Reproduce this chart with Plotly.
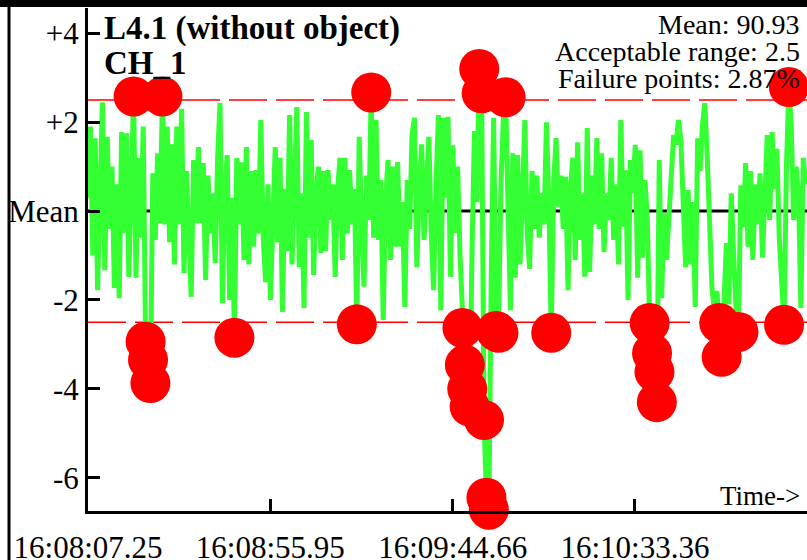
import plotly.graph_objects as go

# ---------------- data ----------------
title_line1 = "L4.1 (without object)"
title_line2 = "CH_1"
mean_value = 90.93
acceptable_range = 2.5
failure_pct = 2.87

tick_seconds = [0.0, 48.70, 97.41, 146.11]
tick_labels = ["16:08:07.25", "16:08:55.95", "16:09:44.66", "16:10:33.36"]
y_tick_vals = [4, 2, 0, -2, -4, -6]
y_tick_text = ["+4", "+2", "Mean", "-2", "-4", "-6"]

sample_period_s = 0.6412  # seconds between samples

# deviation from mean, read segment by segment
dev_a = [0.3, 1.9, -1.0, 1.64, -1.78, 0.8, 2.45, -1.33, 1.67, -0.4,
         1.0, -1.73, 0.6, -1.96, 1.78, -0.5, 1.75, -1.48, 0.9, 2.58,
         -1.5, 1.2, -0.6, 1.9, -2.94, -3.35, -3.87, 0.85, -0.65, 1.3,
         -0.27, 2.58, -0.3, 1.9, -0.7, 1.5, -1.2, 1.9, -0.3, 2.3,
         -1.4, 0.9, -0.8, -1.93, 1.15, -0.27, 1.44, -0.27, 1.08]
dev_b = [-1.55, 0.8, -0.5, 0.4, -1.17, 1.2, 2.43, -2.07, 0.5, 1.26,
         -2.0, 0.3, -2.85, 1.2, -0.3, 1.1, -1.1, 1.44, -1.2, 0.9,
         -0.8, 0.92, -0.5, 2.05, -0.6, -1.6, 0.6, -2.0, 0.3, 1.44,
         -0.7, 1.2, -2.27, 0.5, -0.9, 2.16, -1.2, 0.8, 2.34, -1.26,
         0.4, -2.18, 2.23, -0.6, 1.6, -1.44, 0.4, 1.0, -0.95, 0.9]
dev_c = [-0.9, 0.92, -0.2, 0.6, -1.48, 0.5, 1.2, -1.1, 1.2, -0.5,
         0.92, -0.3, 0.5, -2.55, 1.67, -0.4, -1.7, 0.8, -0.2, 2.67,
         -0.6, 2.05, -0.65, 0.7, -2.45, 0.3, 1.15, -1.1, 1.0, -0.8,
         1.1, -0.8, 0.2, -2.16, 0.7, -0.4, 1.71, 2.1, -1.26, 0.5,
         1.5, -0.65, 0.9, 1.67, -0.5, -1.78, 0.6, 2.16, -2.23, 2.1]
dev_d = [0.3, 2.12, -1.48, 1.48, -0.5, 1.0, -1.0, -2.63, -3.46, -4.0,
         -4.4, -0.9, 1.8, 0.2, 3.2, 2.65, -4.7, -6.45, -6.72, -1.5,
         2.1, -2.7, -2.74, 0.5, 2.0, 2.56, -0.6, -2.23, 1.3, -1.5,
         1.26, -1.2, 0.3, 2.05, -0.5, -1.3, 0.9, -0.4, 0.8, -0.6,
         0.4, -0.3, 2.0, 0.2, -2.74, 0.6, 1.64, 0.1, 0.8, -0.4]
dev_e = [0.77, -1.78, 0.5, 1.2, -1.1, 1.55, -0.65, 0.4, -1.48, 1.87,
         -1.37, 0.8, -0.3, 1.64, -0.4, 1.3, -0.92, 0.4, -0.2, 1.2,
         -0.65, 0.6, -1.2, 2.05, -0.35, 0.92, -2.0, 1.15, 0.4, 1.49,
         -1.5, 1.37, -1.05, 0.7, -0.1, -2.52, -3.2, -3.62, -4.3, 1.15,
         -1.96, -0.05, -1.1, 0.0, 1.08, 1.71, 1.5, 2.05, 1.6, 0.0]
dev_f = [-1.26, 0.47, -1.2, 0.2, -2.16, 1.64, 0.9, 1.94, 2.43, 1.2,
         -0.7, -1.78, -2.2, -1.8, -2.52, -3.28, -2.0, -0.72, -2.1, 0.4,
         -1.0, -2.2, -2.72, 0.58, -0.36, 1.08, -0.8, 0.9, -1.1, 0.6,
         -0.3, 0.85, -1.05, 0.4, 1.71, -0.2, 1.78, 0.5, 1.4, -0.6,
         -1.5, -2.56, 1.0, 2.79, 1.9, -0.2, 1.0, 0.4, -2.18, 1.2, 0.6]

deviation = dev_a + dev_b + dev_c + dev_d + dev_e + dev_f
times = [i * sample_period_s for i in range(len(deviation))]

fail_t = [t for t, v in zip(times, deviation) if abs(v) > acceptable_range]
fail_v = [v for v in deviation if abs(v) > acceptable_range]

# ---------------- geometry helpers ----------------
W, H = 807, 560
ML, MR, MT, MB = 88, 0, 8, 49
PW, PH = W - ML - MR, H - MT - MB


def px_x(px):
    return (px - ML) / PW


def px_y(py):
    return (H - MB - py) / PH


FONT = "Liberation Serif"

fig = go.Figure()

fig.add_trace(go.Scatter(
    x=times, y=deviation, mode="lines",
    line=dict(color="rgb(51,255,51)", width=5),
    hoverinfo="skip", showlegend=False))

fig.add_trace(go.Scatter(
    x=fail_t, y=fail_v, mode="markers",
    marker=dict(color="rgb(255,0,0)", size=40, line=dict(width=0)),
    cliponaxis=False, showlegend=False))

shapes = [
    dict(type="line", xref="paper", yref="y", x0=0, x1=1, y0=0, y1=0,
         line=dict(color="black", width=3), layer="below"),
    dict(type="line", xref="paper", yref="y", x0=0, x1=1,
         y0=acceptable_range, y1=acceptable_range,
         line=dict(color="red", width=1.5, dash="38px,9px"), layer="below"),
    dict(type="line", xref="paper", yref="y", x0=0, x1=1,
         y0=-acceptable_range, y1=-acceptable_range,
         line=dict(color="red", width=1.5, dash="38px,9px"), layer="below"),
    # frame borders
    dict(type="rect", xref="paper", yref="paper",
         x0=px_x(0), x1=px_x(W), y0=px_y(7), y1=px_y(0),
         fillcolor="black", line=dict(width=0), layer="above"),
    dict(type="rect", xref="paper", yref="paper",
         x0=px_x(7.5), x1=px_x(10.5), y0=px_y(H), y1=px_y(0),
         fillcolor="black", line=dict(width=0), layer="above"),
]

ann = []
ann.append(dict(text="<b>%s</b>" % title_line1, x=px_x(102), y=px_y(8),
                xanchor="left", yanchor="top", font=dict(family=FONT, size=33, color="black")))
ann.append(dict(text="<b>%s</b>" % title_line2, x=px_x(102), y=px_y(43),
                xanchor="left", yanchor="top", font=dict(family=FONT, size=33, color="black")))
right_lines = ["Mean: %.2f" % mean_value,
               "Acceptable range: %g" % acceptable_range,
               "Failure points: %.2f%%" % failure_pct]
for k, txt in enumerate(right_lines):
    ann.append(dict(text=txt, x=px_x(802), y=px_y(7 + 27 * k),
                    xanchor="right", yanchor="top",
                    font=dict(family=FONT, size=28, color="black")))
ann.append(dict(text="Time->", x=px_x(802), y=px_y(479), xanchor="right", yanchor="top",
                font=dict(family=FONT, size=27, color="black")))
for a in ann:
    a.update(xref="paper", yref="paper", showarrow=False)

fig.update_layout(
    width=W, height=H, autosize=False,
    margin=dict(l=ML, r=MR, t=MT, b=MB, pad=0, autoexpand=False),
    paper_bgcolor="white", plot_bgcolor="white",
    shapes=shapes, annotations=ann, showlegend=False,
    xaxis=dict(range=[0, PW / (182.3 / 48.70)], showgrid=False, zeroline=False,
               automargin=False,
               showline=True, linecolor="black", linewidth=3,
               ticks="inside", ticklen=12, tickwidth=3, tickcolor="black",
               tickvals=tick_seconds, ticktext=tick_labels,
               tickfont=dict(family=FONT, size=31, color="black"),
               ticklabelstandoff=7),
    yaxis=dict(range=[-6.75, 4.57], showgrid=False, zeroline=False,
               automargin=False,
               showline=True, linecolor="black", linewidth=3,
               ticks="inside", ticklen=12, tickwidth=3, tickcolor="black",
               tickvals=y_tick_vals, ticktext=y_tick_text,
               tickfont=dict(family=FONT, size=31, color="black")),
)

fig.write_html(
    "out.html",
    config={"displayModeBar": False},
    post_script="document.body.style.margin='0px';document.body.style.padding='0px';"
                "document.documentElement.style.overflow='hidden';",
)
